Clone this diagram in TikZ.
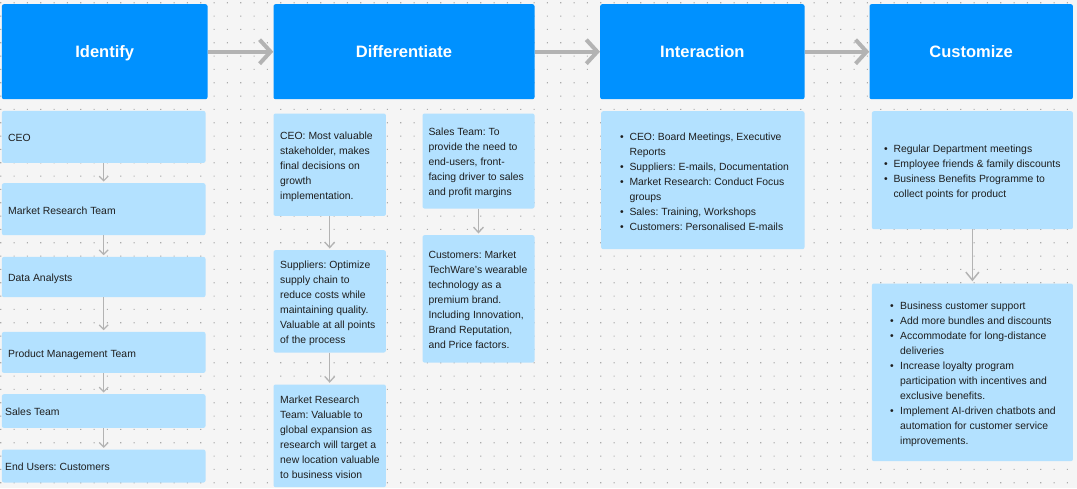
\documentclass[tikz,border=0pt]{standalone}
\usepackage{fontspec}
\setmainfont{Liberation Sans}
\usetikzlibrary{arrows.meta}
\definecolor{bg}{HTML}{F5F5F5}
\definecolor{dotc}{HTML}{ABABAB}
\definecolor{hblue}{HTML}{0091FF}
\definecolor{lblue}{HTML}{B3E1FF}
\definecolor{arrowc}{HTML}{B3B3B3}
\definecolor{txt}{HTML}{1E1E1E}
\newcommand{\bul}{\textbullet}
\frenchspacing
\begin{document}
\begin{tikzpicture}[x=1pt,y=-1pt,
  header/.style={fill=hblue, rounded corners=2pt, text=white, text height=12pt, text depth=0pt,
    font=\fontsize{16.5}{20}\selectfont\bfseries, inner sep=0, anchor=north west},
  card/.style={fill=lblue, rounded corners=2pt, inner sep=0, anchor=north west},
  ctext/.style={anchor=west, inner sep=0, yshift=-1.8pt, text=txt, font=\fontsize{10.4}{15}\selectfont},
  bigarrow/.style={draw=arrowc, line width=4pt, -{Straight Barb[length=11pt,width=24pt]}},
  smallarrow/.style={draw=arrowc, line width=1.2pt, shorten >=1.5pt, -{Straight Barb[length=4.5pt,width=9pt]}},
  midarrow/.style={draw=arrowc, line width=1.3pt, shorten >=1.5pt, -{Straight Barb[length=5.5pt,width=10pt]}},
  custarrow/.style={draw=arrowc, line width=1.5pt, shorten >=2pt, -{Straight Barb[length=8pt,width=13pt]}},
]
\useasboundingbox (0,0) rectangle (1077,488);
\fill[bg] (0,0) rectangle (1077,488);
\fill[dotc] \foreach \i in {0,...,80}{\foreach \j in {0,...,36}{
  ({\i*13.3333+0.2},{\j*13.3333+2.2}) rectangle ++(1.1,1.1)}};

% headers
\node[header, minimum width=205.6, minimum height=95] (h1) at (1.7,4) {Identify};
\node[header, minimum width=261, minimum height=95] (h2) at (273.3,4) {Differentiate};
\node[header, minimum width=204.3, minimum height=95] (h3) at (600,4) {Interaction};
\node[header, minimum width=203.4, minimum height=95] (h4) at (869.3,4) {Customize};
\draw[bigarrow] (h1.east) -- (h2.west);
\draw[bigarrow] (h2.east) -- (h3.west);
\draw[bigarrow] (h3.east) -- (h4.west);

% left column
\node[card, minimum width=203.6, minimum height=52] (l1) at (1.7,110.7) {};
\node[card, minimum width=203.6, minimum height=52] (l2) at (1.7,183) {};
\node[card, minimum width=203.6, minimum height=40.3] (l3) at (1.7,256.7) {};
\node[card, minimum width=203.6, minimum height=41] (l4) at (1.7,331.7) {};
\node[card, minimum width=203.6, minimum height=33.7] (l5) at (1.7,394) {};
\node[card, minimum width=203.6, minimum height=33] (l6) at (1.7,449.3) {};
\node[ctext] (tl1) at ([xshift=6.3]l1.west) {\begin{tabular}{@{}l@{}}CEO\end{tabular}};
\node[ctext] (tl2) at ([xshift=6.3]l2.west) {\begin{tabular}{@{}l@{}}Market Research Team\end{tabular}};
\node[ctext] (tl3) at ([xshift=6.3]l3.west) {\begin{tabular}{@{}l@{}}Data Analysts\end{tabular}};
\node[ctext] (tl4) at ([xshift=6.3]l4.west) {\begin{tabular}{@{}l@{}}Product Management Team\end{tabular}};
\node[ctext] (tl5) at ([xshift=3.3]l5.west) {\begin{tabular}{@{}l@{}}Sales Team\end{tabular}};
\node[ctext] (tl6) at ([xshift=3.3]l6.west) {\begin{tabular}{@{}l@{}}End Users: Customers\end{tabular}};
\draw[smallarrow] (l1.south) -- (l2.north);
\draw[smallarrow] (l2.south) -- (l3.north);
\draw[smallarrow] (l3.south) -- (l4.north);
\draw[smallarrow] (l4.south) -- (l5.north);
\draw[smallarrow] (l5.south) -- (l6.north);

% differentiate column
\node[card, minimum width=112.4, minimum height=102.4] (m1) at (273.3,113.3) {};
\node[card, minimum width=112.4, minimum height=102.3] (m2) at (273.3,250) {};
\node[card, minimum width=112.4, minimum height=102.7] (m3) at (273.3,384.3) {};
\node[card, minimum width=112, minimum height=95] (r1) at (422.3,113.3) {};
\node[card, minimum width=112, minimum height=127.3] (r2) at (422.3,235) {};
\node[ctext] (tm1) at ([xshift=6.7]m1.west) {\begin{tabular}{@{}l@{}}CEO: Most valuable\\stakeholder, makes\\final decisions on\\growth\\implementation.\end{tabular}};
\node[ctext] (tm2) at ([xshift=6.7]m2.west) {\begin{tabular}{@{}l@{}}Suppliers: Optimize\\supply chain to\\reduce costs while\\maintaining quality.\\Valuable at all points\\of the process\end{tabular}};
\node[ctext] (tm3) at ([xshift=6.7]m3.west) {\begin{tabular}{@{}l@{}}Market Research\\Team: Valuable to\\global expansion as\\research will target a\\new location valuable\\to business vision\end{tabular}};
\node[ctext] (tr1) at ([xshift=6]r1.west) {\begin{tabular}{@{}l@{}}Sales Team: To\\provide the need to\\end-users, front-\\facing driver to sales\\and profit margins\end{tabular}};
\node[ctext] (tr2) at ([xshift=6]r2.west) {\begin{tabular}{@{}l@{}}Customers: Market\\TechWare’s wearable\\technology as a\\premium brand.\\Including Innovation,\\Brand Reputation,\\and Price factors.\end{tabular}};
\draw[midarrow] (m1.south) -- (m2.north);
\draw[midarrow] (m2.south) -- (m3.north);
\draw[midarrow] (r1.south) -- (r2.north);

% interaction
\node[card, minimum width=203.3, minimum height=138] (i1) at (601,111) {};
\node[ctext] (ti1) at ([xshift=18.8]i1.west) {\begin{tabular}{@{}l@{}l@{}}
\makebox[9.5pt][l]{\bul}&CEO: Board Meetings, Executive\\
&Reports\\
\bul&Suppliers: E-mails, Documentation\\
\bul&Market Research: Conduct Focus\\
&groups\\
\bul&Sales: Training, Workshops\\
\bul&Customers: Personalised E-mails
\end{tabular}};

% customize
\node[card, minimum width=201, minimum height=118] (c1) at (871.7,111) {};
\node[card, minimum width=201, minimum height=177.7] (c2) at (871.7,283.3) {};
\node[ctext] (tc1) at ([xshift=12.1]c1.west) {\begin{tabular}{@{}l@{}l@{}}
\makebox[9.5pt][l]{\bul}&Regular Department meetings\\
\bul&Employee friends \& family discounts\\
\bul&Business Benefits Programme to\\
&collect points for product
\end{tabular}};
\node[ctext] (tc2) at ([xshift=18.1]c2.west) {\begin{tabular}{@{}l@{}l@{}}
\makebox[10.2pt][l]{\bul}&Business customer support\\
\bul&Add more bundles and discounts\\
\bul&Accommodate for long-distance\\
&deliveries\\
\bul&Increase loyalty program\\
&participation with incentives and\\
&exclusive benefits.\\
\bul&Implement AI-driven chatbots and\\
&automation for customer service\\
&improvements.
\end{tabular}};
\draw[custarrow] (c1.south) -- (c2.north);
\end{tikzpicture}
\end{document}
